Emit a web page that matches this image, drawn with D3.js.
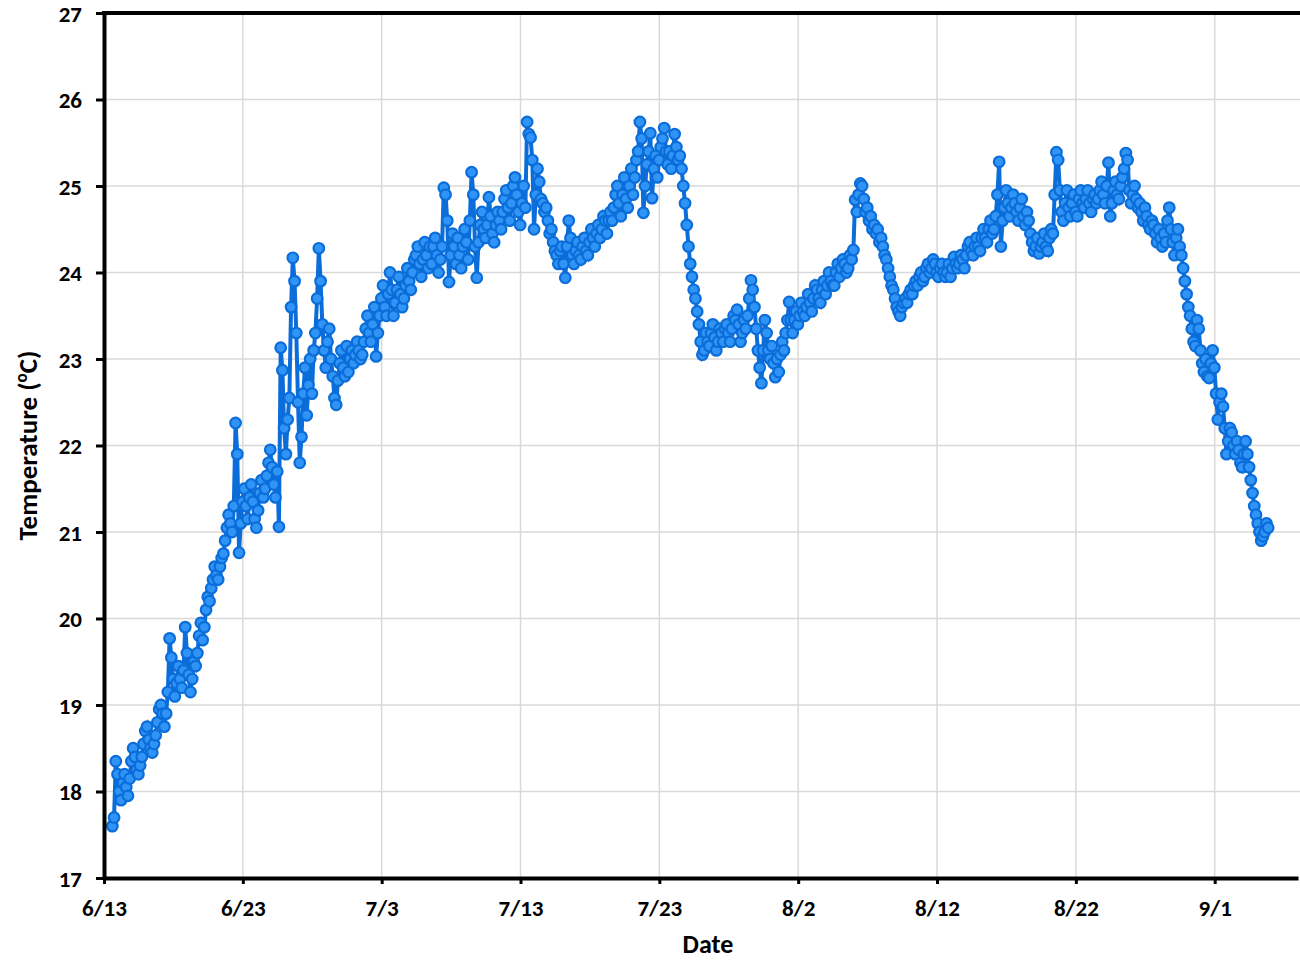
<!DOCTYPE html>
<html>
<head>
<meta charset="utf-8">
<script src="https://cdn.jsdelivr.net/npm/d3@7"></script>
<style>
  body { margin: 0; background: #fff; }
  svg text { font-family: Carlito, Calibri, Lato, "Open Sans", sans-serif; font-weight: bold; fill: #000; }
</style>
</head>
<body>
<div id="chart"></div>
<script>
// logger series: first sample 0.6 days after 6/13, then one every 3 hours
const startDate = "2019/6/13";
const endDate = "2019/9/7";
const firstOffset = 0.6;
const stepHours = 3;
const dateTicks = ["6/13", "6/23", "7/3", "7/13", "7/23", "8/2", "8/12", "8/22", "9/1"];
const tempTicks = [17, 18, 19, 20, 21, 22, 23, 24, 25, 26, 27];

// temperature (degC), one row per day
const temps = [
  17.6, 17.7, 18.35, 18.2, 18.0, 17.9, 18.1, 18.2,
  18.05, 17.95, 18.15, 18.35, 18.5, 18.4, 18.25, 18.2,
  18.3, 18.4, 18.55, 18.7, 18.75, 18.6, 18.5, 18.45,
  18.55, 18.65, 18.8, 18.95, 19.0, 18.9, 18.75, 18.9,
  19.15, 19.77, 19.55, 19.3, 19.1, 19.25, 19.45, 19.3,
  19.2, 19.4, 19.9, 19.6, 19.35, 19.15, 19.3, 19.5,
  19.45, 19.6, 19.8, 19.95, 19.75, 19.9, 20.1, 20.25,
  20.2, 20.35, 20.45, 20.6, 20.5, 20.45, 20.6, 20.7,
  20.75, 20.9, 21.05, 21.2, 21.1, 21.0, 21.3, 22.26,
  21.9, 20.76, 21.1, 21.35, 21.5, 21.3, 21.15, 21.4,
  21.55, 21.35, 21.15, 21.05, 21.25, 21.45, 21.6, 21.4,
  21.5, 21.65, 21.8, 21.95, 21.75, 21.55, 21.4, 21.7,
  21.06, 23.13, 22.87, 22.2, 21.9, 22.3, 22.55, 23.6,
  24.17, 23.9, 23.3, 22.5, 21.8, 22.1, 22.6, 22.9,
  22.35, 22.7, 23.0, 22.6, 23.1, 23.3, 23.7, 24.28,
  23.9, 23.4, 23.1, 22.9, 23.2, 23.35, 23.0, 22.8,
  22.55, 22.47, 22.75, 22.95, 23.1, 22.9, 22.8, 23.15,
  22.85, 23.0, 23.1, 22.95, 23.05, 23.2, 23.1, 23.0,
  23.05, 23.2, 23.35, 23.5, 23.3, 23.2, 23.4, 23.6,
  23.03, 23.3, 23.5, 23.7, 23.85, 23.6, 23.5, 23.75,
  24.0, 23.8, 23.5, 23.65, 23.8, 23.95, 23.75, 23.6,
  23.7, 23.85, 24.05, 23.9, 23.8, 24.0, 24.15, 24.2,
  24.3, 24.1, 23.95, 24.15, 24.35, 24.2, 24.05, 24.3,
  24.1, 24.3, 24.4, 24.2, 24.0, 24.15, 24.3, 24.98,
  24.9, 24.6, 23.89, 24.2, 24.45, 24.3, 24.1, 24.4,
  24.2, 24.05, 24.3, 24.5, 24.35, 24.15, 24.6, 25.16,
  24.9, 24.3, 23.94, 24.35, 24.55, 24.7, 24.5, 24.4,
  24.55, 24.87, 24.65, 24.45, 24.35, 24.55, 24.7, 24.6,
  24.5, 24.7, 24.85, 24.95, 24.75, 24.6, 24.8, 25.0,
  25.1, 24.9, 24.7, 24.55, 24.8, 25.0, 24.75, 25.74,
  25.6, 25.56, 25.3, 24.5, 24.9, 25.2, 25.05, 24.85,
  24.8, 24.7, 24.75, 24.6, 24.45, 24.5, 24.35, 24.25,
  24.2, 24.1, 24.25, 24.3, 24.1, 23.94, 24.3, 24.6,
  24.4, 24.2, 24.1, 24.25, 24.35, 24.2, 24.15, 24.3,
  24.4, 24.25, 24.2, 24.35, 24.5, 24.4, 24.3, 24.45,
  24.55, 24.4, 24.5, 24.65, 24.6, 24.45, 24.6, 24.7,
  24.6, 24.75, 24.9, 25.0, 24.8, 24.65, 24.9, 25.1,
  24.85, 24.75, 25.0, 25.2, 24.9, 25.1, 25.3, 25.4,
  25.74, 25.55, 24.69, 25.0, 25.25, 25.4, 25.61, 24.86,
  25.2, 25.35, 25.1, 25.3, 25.45, 25.55, 25.67, 25.4,
  25.25, 25.4, 25.2, 25.35, 25.6, 25.45, 25.3, 25.35,
  25.2, 25.0, 24.8, 24.55, 24.3, 24.1, 23.95, 23.8,
  23.7, 23.55, 23.4, 23.2, 23.05, 23.1, 23.3, 23.2,
  23.15, 23.3, 23.4, 23.25, 23.1, 23.2, 23.35, 23.3,
  23.2, 23.35, 23.4, 23.3, 23.2, 23.35, 23.5, 23.45,
  23.57, 23.4, 23.2, 23.3, 23.45, 23.35, 23.5, 23.7,
  23.91, 23.8, 23.6, 23.35, 23.1, 22.9, 22.72, 23.1,
  23.45, 23.3, 23.1, 23.0, 23.15, 22.95, 22.79, 23.0,
  22.85, 23.05, 23.2, 23.1, 23.3, 23.45, 23.66, 23.45,
  23.3, 23.45, 23.55, 23.4, 23.5, 23.65, 23.55, 23.5,
  23.6, 23.75, 23.65, 23.55, 23.7, 23.85, 23.8, 23.7,
  23.65, 23.8, 23.9, 23.75, 23.85, 24.0, 23.9, 23.85,
  23.85, 24.0, 24.1, 23.95, 24.05, 24.15, 24.1, 24.0,
  24.05, 24.2, 24.15, 24.26, 24.84, 24.7, 24.9, 25.03,
  25.0, 24.85, 24.7, 24.75, 24.6, 24.65, 24.5, 24.55,
  24.45, 24.5, 24.35, 24.4, 24.3, 24.2, 24.15, 24.05,
  23.95, 23.85, 23.8, 23.7, 23.6, 23.55, 23.5, 23.6,
  23.65, 23.7, 23.65, 23.75, 23.8, 23.75, 23.85, 23.9,
  23.85, 23.95, 24.0, 23.9, 23.95, 24.05, 24.1, 24.0,
  24.05, 24.15, 24.1, 24.0, 23.95, 24.05, 24.1, 24.0,
  23.95, 24.0, 24.1, 23.95, 24.05, 24.18, 24.1, 24.05,
  24.1, 24.2, 24.15, 24.05, 24.2, 24.3, 24.35, 24.25,
  24.2, 24.3, 24.4, 24.3, 24.25, 24.4, 24.5, 24.4,
  24.35, 24.5, 24.6, 24.45, 24.5, 24.65, 24.9, 25.28,
  24.3, 24.6, 24.75, 24.95, 24.8, 24.65, 24.75, 24.9,
  24.8, 24.7, 24.6, 24.75, 24.85, 24.65, 24.55, 24.7,
  24.6, 24.45, 24.35, 24.25, 24.3, 24.4, 24.22, 24.3,
  24.35, 24.45, 24.3, 24.25, 24.4, 24.5, 24.45, 24.9,
  25.39, 25.3, 24.95, 24.7, 24.6, 24.8, 24.95, 24.75,
  24.65, 24.8, 24.9, 24.7, 24.65, 24.85, 24.95, 24.8,
  24.75, 24.85, 24.95, 24.8, 24.7, 24.85, 24.9, 24.8,
  24.85, 24.95, 25.05, 24.9, 24.8, 25.0, 25.27, 24.65,
  24.8, 24.95, 25.05, 24.9, 24.85, 25.0, 25.1, 25.2,
  25.38, 25.3, 24.95, 24.8, 24.9, 25.0, 24.85, 24.75,
  24.8, 24.7, 24.6, 24.75, 24.65, 24.55, 24.5, 24.6,
  24.55, 24.45, 24.35, 24.5, 24.4, 24.3, 24.45, 24.35,
  24.6, 24.75, 24.5, 24.35, 24.2, 24.4, 24.5, 24.3,
  24.2, 24.05, 23.9, 23.75, 23.6, 23.5, 23.35, 23.2,
  23.15, 23.45, 23.35, 23.1, 22.95, 22.85, 23.0, 22.8,
  22.78, 22.95, 23.1, 22.9, 22.6, 22.3, 22.5, 22.6,
  22.45, 22.2, 21.9, 22.05, 22.2, 22.15, 22.0, 21.9,
  22.05, 21.95, 21.8, 21.75, 21.9, 22.05, 21.9, 21.75,
  21.6, 21.45, 21.3, 21.2, 21.1, 21.0, 20.9, 20.95,
  21.0, 21.1, 21.05
];

const width = 1300;
const height = 961;
const margin = { top: 13, right: 2, bottom: 83, left: 104 };

const parseDay = d3.utcParse("%Y/%m/%d");
const t0 = parseDay(startDate);
const sampleDate = i => new Date(t0.getTime() + (firstOffset + i * stepHours / 24) * 864e5);
const series = temps.map((v, i) => ({ date: sampleDate(i), value: v }));

const x = d3.scaleUtc()
    .domain([t0, parseDay(endDate)])
    .range([margin.left, width - margin.right]);

const y = d3.scaleLinear()
    .domain([17, 27])
    .range([height - margin.bottom, margin.top]);

const svg = d3.select("#chart")
    .append("svg")
    .attr("width", width)
    .attr("height", height);

const tickDates = dateTicks.map(s => parseDay("2019/" + s));

// gridlines
svg.append("g")
    .selectAll("line")
    .data(tempTicks.slice(1))
    .enter()
    .append("line")
    .attr("x1", margin.left)
    .attr("x2", width)
    .attr("y1", d => y(d))
    .attr("y2", d => y(d))
    .attr("stroke", "#d9d9d9")
    .attr("stroke-width", 1.5);

svg.append("g")
    .selectAll("line")
    .data(tickDates.slice(1))
    .enter()
    .append("line")
    .attr("x1", d => x(d))
    .attr("x2", d => x(d))
    .attr("y1", margin.top)
    .attr("y2", height - margin.bottom)
    .attr("stroke", "#d9d9d9")
    .attr("stroke-width", 1.5);

// trace
const line = d3.line()
    .x(d => x(d.date))
    .y(d => y(d.value));

svg.append("path")
    .datum(series)
    .attr("d", line)
    .attr("fill", "none")
    .attr("stroke", "#0a6dd9")
    .attr("stroke-width", 4);

svg.append("g")
    .selectAll("circle")
    .data(series)
    .enter()
    .append("circle")
    .attr("cx", d => x(d.date))
    .attr("cy", d => y(d.value))
    .attr("r", 5.3)
    .attr("fill", "#3094f6")
    .attr("stroke", "#0a6dd9")
    .attr("stroke-width", 2.2);

// axes
const xAxis = d3.axisBottom(x)
    .tickValues(tickDates)
    .tickFormat((d, i) => dateTicks[i])
    .tickSize(6)
    .tickSizeOuter(0);

const yAxis = d3.axisLeft(y)
    .tickValues(tempTicks)
    .tickSize(8)
    .tickSizeOuter(0);

const gx = svg.append("g")
    .attr("transform", `translate(0,${height - margin.bottom})`)
    .call(xAxis);

const gy = svg.append("g")
    .attr("transform", `translate(${margin.left},0)`)
    .call(yAxis);

[gx, gy].forEach(g => {
    g.select(".domain").attr("stroke", "#000").attr("stroke-width", 4);
    g.selectAll(".tick line").attr("stroke", "#000").attr("stroke-width", 3);
    g.selectAll(".tick text").style("font-size", "23px");
});
gx.selectAll(".tick text").attr("y", 22).attr("dy", "0.71em");
gy.selectAll(".tick text").attr("x", -22).attr("dy", "0.35em");

// top frame line
svg.append("line")
    .attr("x1", margin.left - 2)
    .attr("x2", width)
    .attr("y1", margin.top)
    .attr("y2", margin.top)
    .attr("stroke", "#000")
    .attr("stroke-width", 4);

// axis titles
svg.append("text")
    .attr("x", (margin.left + width) / 2 + 6)
    .attr("y", 953)
    .attr("text-anchor", "middle")
    .style("font-size", "26px")
    .text("Date");

const yTitle = svg.append("text")
    .attr("transform", `translate(37,${(margin.top + height - margin.bottom) / 2}) rotate(-90)`)
    .attr("text-anchor", "middle")
    .style("font-size", "27px");
yTitle.append("tspan").text("Temperature (");
yTitle.append("tspan").attr("baseline-shift", "super").style("font-size", "17px").text("o");
yTitle.append("tspan").text("C)");
</script>
</body>
</html>
